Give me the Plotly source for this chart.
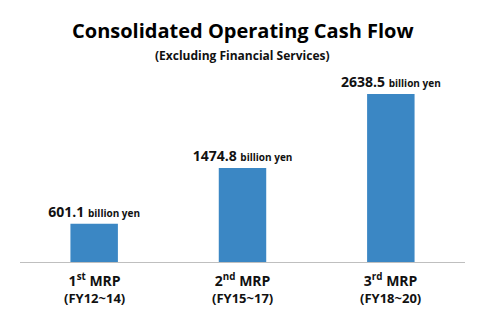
import plotly.graph_objects as go

categories = ["1st MRP", "2nd MRP", "3rd MRP"]
tick_num = ["1", "2", "3"]
tick_sup = ["st", "nd", "rd"]
tick_line2 = ["(FY12~14)", "(FY15~17)", "(FY18~20)"]
values = [601.1, 1474.8, 2638.5]
unit = "billion yen"

FONT = "Open Sans"
BAR_COLOR = "#3b87c4"

fig = go.Figure()
fig.add_trace(go.Bar(
    x=categories, y=values,
    marker=dict(color=BAR_COLOR, line=dict(width=0)),
    width=0.32,
    text=[f"<b>{v:.1f}</b> <span style='font-size:10px'><b>{unit}</b></span>" for v in values],
    textposition="outside",
    constraintext="none",
    textfont=dict(family=FONT, size=14, color="#111111"),
    cliponaxis=False,
    hoverinfo="skip",
))

annotations = [
    dict(text="<b>Consolidated Operating Cash Flow</b>", x=0.5, y=1.208, xref="paper", yref="paper",
         showarrow=False, font=dict(family=FONT, size=20, color="#000000"), xanchor="center", yanchor="middle"),
    dict(text="<b>(Excluding Financial Services)</b>", x=0.5, y=1.078, xref="paper", yref="paper",
         showarrow=False, font=dict(family=FONT, size=12, color="#111111"), xanchor="center", yanchor="middle"),
]
for c, n, s, t2 in zip(categories, tick_num, tick_sup, tick_line2):
    annotations.append(dict(
        text=f"<b><span style='font-size:14px'>{n}<sup>{s}</sup> MRP</span><br>{t2}</b>",
        x=c, y=-0.14, xref="x", yref="paper", showarrow=False,
        font=dict(family=FONT, size=13, color="#111111"), xanchor="center", yanchor="middle"))

fig.update_layout(
    width=483, height=323,
    margin=dict(l=20, r=18, t=70, b=61),
    paper_bgcolor="white", plot_bgcolor="white",
    showlegend=False,
    annotations=annotations,
    xaxis=dict(showline=True, linecolor="#bfbfbf", linewidth=1, showticklabels=False,
               ticks="", showgrid=False, zeroline=False, range=[-0.5, 2.5]),
    yaxis=dict(visible=False, range=[0, 3015], showgrid=False, zeroline=False),
)

fig.write_html("out.html")
